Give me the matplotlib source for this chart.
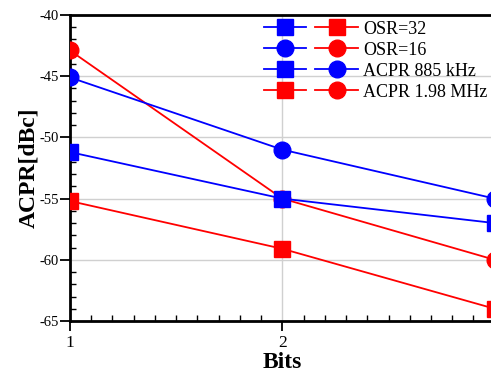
import numpy as np
import matplotlib
matplotlib.use("Agg")
import matplotlib.pyplot as plt
from matplotlib.lines import Line2D
from matplotlib.legend_handler import HandlerTuple
from matplotlib.ticker import MultipleLocator

# Data:
bits = [1, 2, 3]
osr32_885k = [-51.2, -55.0, -57.0]
osr32_198m = [-55.2, -59.1, -64.0]
osr16_885k = [-45.1, -51.0, -55.0]
osr16_198m = [-42.9, -55.0, -60.0]

fontname = "Liberation Serif"
plt.rcParams["font.family"] = [fontname, "DejaVu Serif"]
plt.rcParams["axes.unicode_minus"] = False

fig = plt.figure(figsize=(4.91, 3.76), dpi=100)
ax = fig.add_axes([70 / 491, 1 - 321 / 376, (494.7 - 70) / 491, (321 - 15) / 376])

lw = 1.3
ms = 12
ax.plot(bits, osr32_198m, color="red", marker="s", lw=lw, ms=ms, zorder=3)
ax.plot(bits, osr16_198m, color="red", marker="o", lw=lw, ms=ms, zorder=3)
ax.plot(bits, osr32_885k, color="blue", marker="s", lw=lw, ms=ms, zorder=4)
ax.plot(bits, osr16_885k, color="blue", marker="o", lw=lw, ms=ms, zorder=4)

ax.set_xlim(1, 3)
ax.set_ylim(-65, -40)
ax.set_xticks([1, 2])
ax.set_yticks([-65, -60, -55, -50, -45, -40])
ax.xaxis.set_minor_locator(MultipleLocator(0.1))
ax.yaxis.set_minor_locator(MultipleLocator(1))
ax.tick_params(which="major", direction="out", length=7, width=1.3)
ax.tick_params(which="minor", direction="in", length=4, width=1)
ax.tick_params(axis="x", labelsize=12.5, pad=3)
ax.tick_params(axis="y", labelsize=10.5, pad=1)
ax.grid(True, which="major", color="#d0d0d0", lw=1)
ax.set_axisbelow(True)

for side in ["left", "bottom", "top"]:
    ax.spines[side].set_linewidth(2)
ax.spines["right"].set_visible(False)

ax.set_xlabel("Bits", fontsize=17, fontweight="bold", labelpad=1)
ax.set_ylabel("ACPR[dBc]", fontsize=17, fontweight="bold", labelpad=0)

def h(color, marker):
    return Line2D([], [], color=color, marker=marker, lw=lw, ms=ms)

handles = [
    (h("blue", "s"), h("red", "s")),
    (h("blue", "o"), h("red", "o")),
    (h("blue", "s"), h("blue", "o")),
    (h("red", "s"), h("red", "o")),
]
labels = ["OSR=32", "OSR=16", "ACPR 885 kHz", "ACPR 1.98 MHz"]
fig.legend(handles, labels, handler_map={tuple: HandlerTuple(ndivide=None, pad=0.5)},
           loc="upper left", bbox_to_anchor=(264 / 491, 1 - 20 / 376),
           frameon=False, fontsize=13, handlelength=5.2, handletextpad=0.3,
           labelspacing=0.15, borderpad=0, borderaxespad=0, handleheight=1.0)

fig.savefig("out.png", dpi=100)
